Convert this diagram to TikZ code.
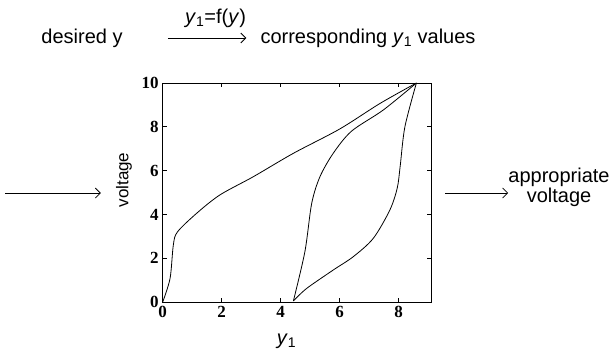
\documentclass[tikz,border=0pt]{standalone}
\usepackage{fontspec}
\setmainfont{Liberation Sans}
\newfontfamily\tickfont{Liberation Serif}
\usetikzlibrary{arrows.meta,positioning}

\tikzset{
  flow/.style={-{Straight Barb[length=5pt,width=10pt]}, line width=0.8pt},
  txt/.style={inner sep=0pt, font=\fontsize{20}{20}\selectfont},
  ticklab/.style={inner sep=0pt, font=\tickfont\bfseries\fontsize{17}{18}\selectfont},
  curve/.style={line width=0.8pt, smooth, tension=0.5},
}

\begin{document}
\begin{tikzpicture}[x=1pt,y=1pt]
  \useasboundingbox (0,0) rectangle (612,-354);

  % top row
  \node[txt] (desired) at (82,-38) {desired y};
  \node[txt] (corr) at (368,-38) {corresponding \textit{y}\textsubscript{1} values};
  \draw[flow, shorten <=45pt, shorten >=14pt] (desired.east) -- (corr.west)
    node[midway, above=10pt, txt, xshift=24pt] (fy) {\textit{y}\textsubscript{1}=f(\textit{y})};

  % plot of voltage against y1
  \begin{scope}[shift={(162.7,-302)}, x=29.5pt, y=21.9pt]
    \draw[line width=0.8pt] (0,0) coordinate (O) rectangle (9.1,10) coordinate (NE);
    \foreach \t in {0,2,...,8} {
      \draw[line width=0.7pt] (\t,0) -- ++(0,4pt) (\t,10) -- ++(0,-4pt);
      \node[ticklab, below=4pt] at (\t,0) {\t};
    }
    \foreach \t in {0,2,...,10} {
      \draw[line width=0.7pt] (0,\t) -- ++(4pt,0) (9.1,\t) -- ++(-4pt,0);
      \node[ticklab, left=4pt] at (0,\t) {\t};
    }
    \draw[curve] plot coordinates {(0,0) (0.25,1.08) (0.36,2.6) (0.5,3.2) (1.15,4.05)
      (1.94,4.89) (3.07,5.72) (4.43,6.79) (6,7.9) (7.37,9.07) (8.6,10)};
    \draw[curve] plot coordinates {(4.43,0.05) (4.82,2.3) (5.05,4.5) (5.33,5.72)
      (5.78,6.79) (6.4,7.8) (7.48,8.77) (8.6,10)};
    \draw[curve] plot coordinates {(4.43,0.05) (4.88,0.62) (5.78,1.46) (6.46,2.07)
      (7.14,2.91) (7.7,4.2) (7.95,5.2) (8.05,6.2) (8.21,8) (8.6,10)};
    \node[txt] (xlab) at (4.2,-1.78) {\textit{y}\textsubscript{1}};
  \end{scope}
  \node[txt, font=\fontsize{17}{17}\selectfont, rotate=90] (ylab) at (124,-180) {voltage};

  % side arrows
  \coordinate (in) at (5,-193);
  \draw[flow, shorten >=15pt] (in) -- (in -| ylab.north);
  \node[txt, align=center] (out) at (559,-187) {appropriate\\voltage};
  \draw[flow, shorten <=14pt] (NE |- in) -- (out.west |- in);
\end{tikzpicture}
\end{document}
